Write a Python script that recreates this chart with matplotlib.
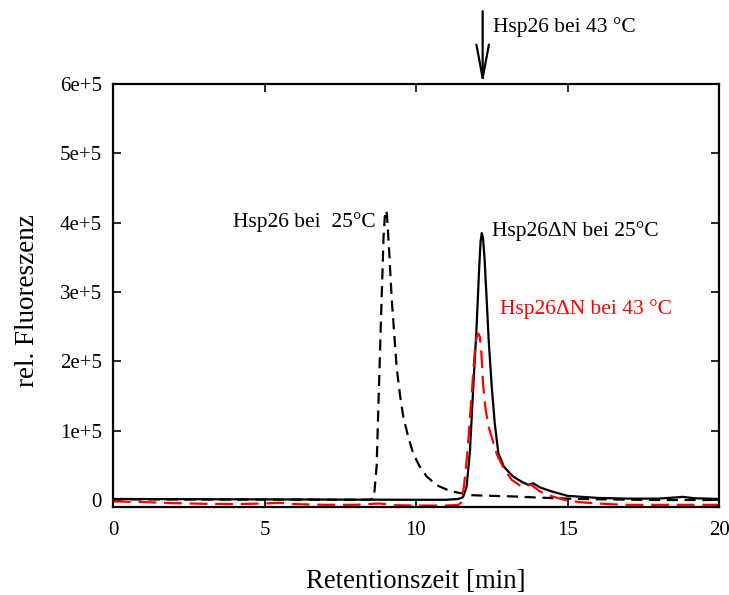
import matplotlib
matplotlib.use("Agg")
import matplotlib.pyplot as plt

plt.rcParams['font.family'] = ['Liberation Serif', 'DejaVu Serif']

# Hsp26ΔN bei 25°C (black solid)
t_dn25 = [0, 2, 4, 6, 8, 10, 11, 11.4, 11.55, 11.67, 11.78, 11.89, 12.0, 12.08, 12.13,
          12.17, 12.21, 12.26, 12.32, 12.4, 12.5, 12.6, 12.72, 12.9, 13.2, 13.5, 13.7,
          13.87, 14.1, 14.5, 15, 15.5, 16, 17, 18, 18.5, 18.8, 19.2, 20]
f_dn25 = [1500, 1200, 1000, 800, 500, 300, 300, 1500, 4000, 19000, 70000, 163000, 250000,
          330000, 372000, 385000, 378000, 350000, 300000, 230000, 163000, 110000, 67000,
          48000, 34000, 26000, 22000, 24000, 18000, 12000, 6000, 4500, 3000, 2000, 2000,
          3500, 4500, 2500, 1500]

# Hsp26 bei 25°C (black dashed)
t_wt25 = [0, 2, 4, 6, 8, 8.5, 8.61, 8.70, 8.83, 8.93, 8.97, 9.01, 9.04, 9.1, 9.2, 9.36,
          9.47, 9.58, 9.75, 9.91, 10.1, 10.35, 10.7, 11.12, 11.78, 12.5, 13.3, 14, 15, 16,
          18, 20]
f_wt25 = [1000, 800, 600, 500, 300, 500, 3000, 48000, 240000, 380000, 408000, 418000,
          412000, 370000, 289000, 192000, 152000, 120000, 90000, 67000, 50000, 34000,
          21000, 13000, 7000, 6000, 5000, 3500, 2000, 1000, 0, 0]

# Hsp26ΔN bei 43 °C (red dashed)
t_dn43 = [0, 1, 2, 3, 4, 5, 5.5, 6, 7, 8, 8.8, 9.3, 10, 11, 11.4, 11.5, 11.58, 11.7,
          11.85, 11.95, 12.0, 12.06, 12.11, 12.16, 12.22, 12.3, 12.4, 12.66, 12.9, 13.16,
          13.49, 13.8, 14.1, 14.5, 15, 15.5, 16.35, 17, 18, 19, 20]
f_dn43 = [-2000, -3000, -4500, -5500, -6000, -5000, -4000, -6000, -7000, -7000, -5000,
          -7500, -8000, -8000, -7000, -3000, 19000, 70000, 160000, 220000, 235000, 240000,
          235000, 210000, 163000, 130000, 105000, 67000, 45000, 29000, 19000, 22000,
          12000, 5000, -1000, -3500, -6000, -7000, -7000, -7000, -7000]

x_ticks = [0, 5, 10, 15, 20]
y_ticks = [0, 100000, 200000, 300000, 400000, 500000, 600000]
y_tick_labels = ['0', '1e+5', '2e+5', '3e+5', '4e+5', '5e+5', '6e+5']

fig = plt.figure(figsize=(7.29, 5.95), dpi=100)
ax = fig.add_axes([113/729, 1-507/595, (719-113)/729, (507-84)/595])

ax.plot(t_dn25, f_dn25, color='black', lw=1.6, solid_joinstyle='round')
ax.plot(t_wt25, f_wt25, color='black', lw=1.6, dashes=(5, 3))
ax.plot(t_dn43, f_dn43, color='#ff0000', lw=1.6, dashes=(8, 3.5))

ax.set_xlim(0, 20)
ax.set_ylim(-10100, 600000)
ax.set_xticks(x_ticks)
ax.set_xticklabels([str(v) for v in x_ticks])
ax.set_yticks(y_ticks)
ax.set_yticklabels(y_tick_labels)
ax.tick_params(direction='in', top=True, right=True, length=6, width=1.2,
               labelsize=15)
ax.tick_params(axis='x', pad=10)
ax.tick_params(axis='y', pad=8)
for s in ax.spines.values():
    s.set_linewidth(1.6)

ax.set_xlabel('Retentionszeit [min]', fontsize=19.3, labelpad=21)
ax.set_ylabel('rel. Fluoreszenz', fontsize=19.5)
ax.yaxis.set_label_coords(-0.121, 0.487)

ax.text(3.96, 401000, 'Hsp26 bei  25°C', fontsize=15.5, va='center', ha='left')
ax.text(12.51, 388000, 'Hsp26ΔN bei 25°C', fontsize=15.5, va='center', ha='left')
ax.text(12.77, 275500, 'Hsp26ΔN bei 43 °C', fontsize=15.5, va='center', ha='left',
        color='#ff0000')
ax.text(12.54, 682000, 'Hsp26 bei 43 °C', fontsize=15.5, va='center', ha='left',
        clip_on=False)
ax.annotate('', xy=(12.2, 600000), xytext=(12.2, 705000),
            arrowprops=dict(arrowstyle='->,head_length=1.6,head_width=0.3',
                            lw=1.6, color='black', mutation_scale=15,
                            shrinkA=0, shrinkB=0),
            annotation_clip=False)

fig.savefig('out.png', dpi=100)
